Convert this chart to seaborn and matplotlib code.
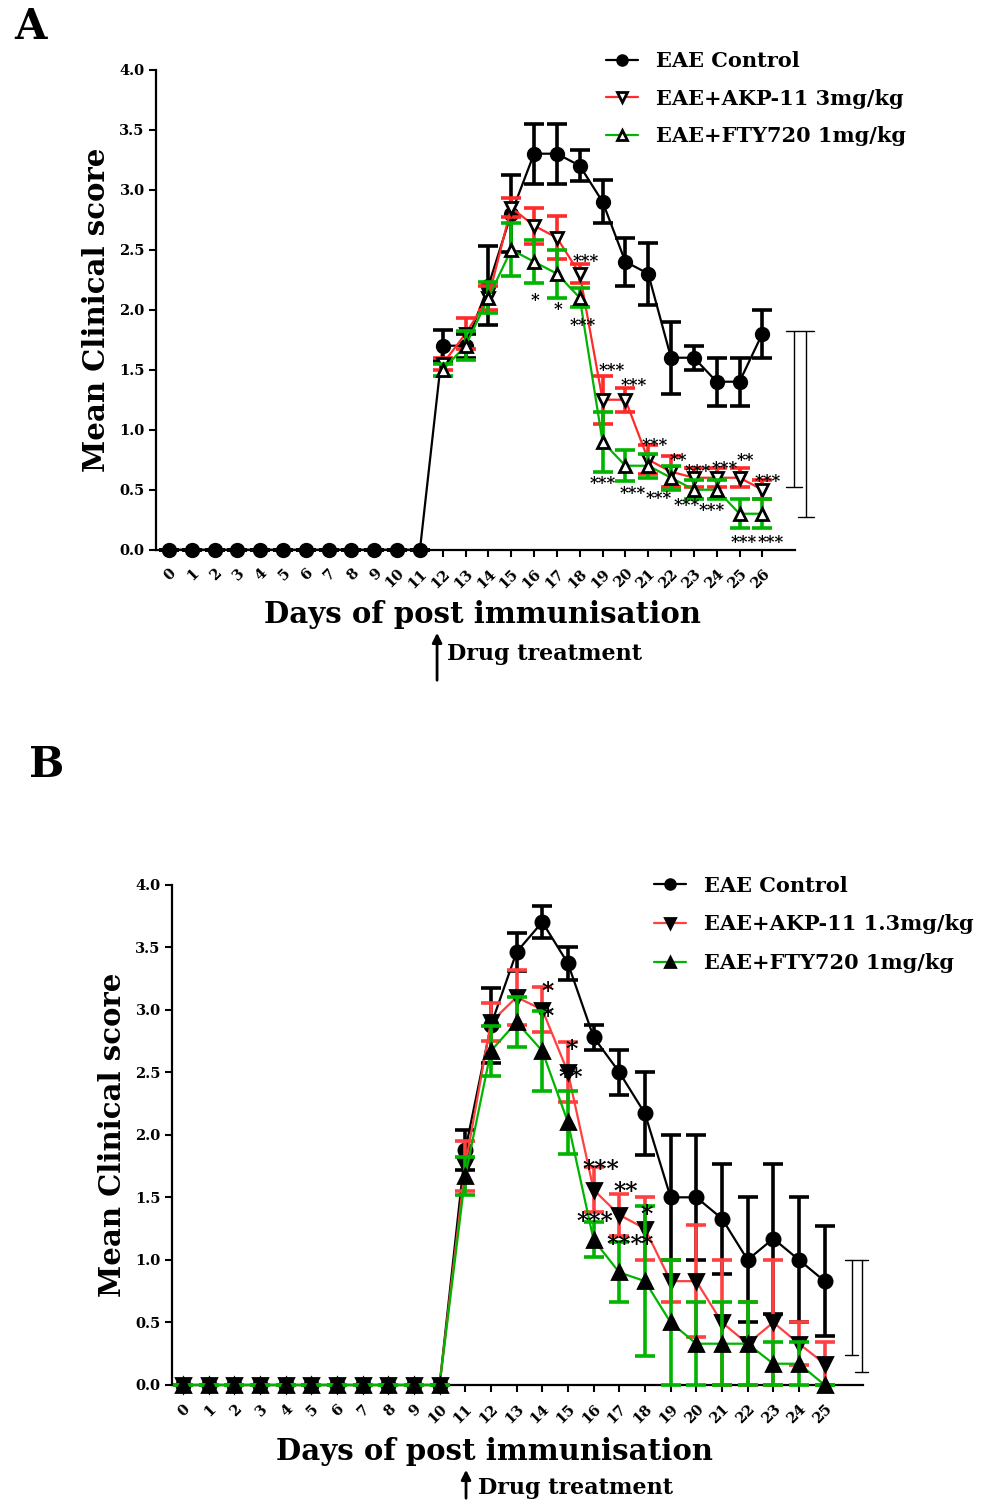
import numpy as np
import pandas as pd
import matplotlib
matplotlib.use('Agg')
import matplotlib.pyplot as plt
import seaborn as sns

sns.set_style('ticks')
plt.rcParams['font.family'] = ['DejaVu Serif']
plt.rcParams['font.weight'] = 'bold'
plt.rcParams['axes.linewidth'] = 1.6
for k in ['text.color', 'axes.labelcolor', 'xtick.color', 'ytick.color', 'axes.edgecolor']:
    plt.rcParams[k] = 'black'

# ---------------- Panel A data ----------------
days_a = list(range(27))
ctrl_a = [0]*12 + [1.7, 1.7, 2.2, 2.8, 3.3, 3.3, 3.2, 2.9, 2.4, 2.3, 1.6, 1.6, 1.4, 1.4, 1.8]
ctrl_a_err = [0]*12 + [0.13, 0.1, 0.33, 0.32, 0.25, 0.25, 0.13, 0.18, 0.2, 0.26, 0.3, 0.1, 0.2, 0.2, 0.2]
days_a_tr = list(range(12, 27))
akp_a = [1.55, 1.8, 2.1, 2.85, 2.7, 2.6, 2.3, 1.25, 1.25, 0.75, 0.65, 0.6, 0.6, 0.6, 0.5]
akp_a_err = [0.05, 0.13, 0.1, 0.08, 0.15, 0.18, 0.08, 0.2, 0.1, 0.12, 0.13, 0.08, 0.08, 0.08, 0.08]
fty_a = [1.5, 1.7, 2.1, 2.5, 2.4, 2.3, 2.1, 0.9, 0.7, 0.7, 0.6, 0.5, 0.5, 0.3, 0.3]
fty_a_err = [0.05, 0.12, 0.13, 0.22, 0.18, 0.2, 0.08, 0.25, 0.13, 0.1, 0.1, 0.08, 0.08, 0.12, 0.12]
labels_a = ['EAE Control', 'EAE+AKP-11 3mg/kg', 'EAE+FTY720 1mg/kg']
stars_a_x = [18.25, 16.05, 17.05, 18.15, 19.4, 20.35, 21.3, 22.3, 23.15, 24.35, 25.25, 26.25,
             19.0, 20.3, 21.45, 22.7, 23.8, 25.2, 26.35]
stars_a_y = [2.40, 2.08, 2.0, 1.87, 1.49, 1.37, 0.87, 0.74, 0.65, 0.68, 0.74, 0.57,
             0.55, 0.47, 0.43, 0.37, 0.33, 0.06, 0.06]
stars_a_t = ['***', '*', '*', '***', '***', '***', '***', '**', '***', '***', '**', '***',
             '***', '***', '***', '***', '***', '***', '***']
bracket_a_x = [27.4, 27.9]
bracket_a_top = 1.82
bracket_a_bot = [0.525, 0.275]

# ---------------- Panel B data ----------------
days_b = list(range(26))
ctrl_b = [0]*11 + [1.875, 2.875, 3.46, 3.7, 3.37, 2.78, 2.5, 2.17, 1.5, 1.5, 1.33, 1.0, 1.17, 1.0, 0.83]
ctrl_b_err = [0]*11 + [0.16, 0.3, 0.15, 0.13, 0.13, 0.1, 0.18, 0.33, 0.5, 0.5, 0.44, 0.5, 0.6, 0.5, 0.44]
akp_b = [0]*11 + [1.75, 2.9, 3.1, 3.0, 2.5, 1.56, 1.36, 1.25, 0.83, 0.83, 0.5, 0.33, 0.5, 0.33, 0.17]
akp_b_err = [0]*11 + [0.2, 0.15, 0.22, 0.18, 0.24, 0.18, 0.17, 0.25, 0.17, 0.45, 0.5, 0.33, 0.5, 0.17, 0.17]
fty_b = [0]*11 + [1.67, 2.67, 2.9, 2.67, 2.1, 1.16, 0.9, 0.83, 0.5, 0.33, 0.33, 0.33, 0.17, 0.17, 0.0]
fty_b_err = [0]*11 + [0.15, 0.2, 0.2, 0.32, 0.25, 0.14, 0.24, 0.6, 0.5, 0.33, 0.33, 0.33, 0.17, 0.17, 0.0]
labels_b = ['EAE Control', 'EAE+AKP-11 1.3mg/kg', 'EAE+FTY720 1mg/kg']
stars_b_x = [14.2, 14.2, 15.15, 15.1, 16.3, 17.25, 18.07, 16.05, 17.2, 18.07]
stars_b_y = [3.14, 2.94, 2.68, 2.45, 1.72, 1.54, 1.36, 1.30, 1.12, 1.12]
stars_b_t = ['*', '*', '*', '**', '***', '**', '*', '***', '***', '*']
bracket_b_x = [26.05, 26.44]
bracket_b_top = 1.0
bracket_b_bot = [0.24, 0.1]

RED = '#ff2a2a'
GREEN = '#00b400'

fig = plt.figure(figsize=(9.99, 15.02), dpi=100)


def draw_series(ax, x, y, err, color, label, marker, mfc, ms, ecolor, z):
    df = pd.DataFrame({'day': x, 'score': y})
    sns.lineplot(data=df, x='day', y='score', ax=ax, color=color, lw=1.6,
                 marker=marker, markersize=ms, markerfacecolor=mfc,
                 markeredgecolor='black', markeredgewidth=2.0,
                 label=label, clip_on=False, zorder=z + 1)
    ax.errorbar(x, y, yerr=err, fmt='none', ecolor=ecolor, elinewidth=2.6,
                capsize=7, capthick=2.6, clip_on=False, zorder=z)


def style_axes(ax, xmax_day, xlim, tick_fs=10.5):
    ax.set_ylim(0, 4)
    ax.set_xlim(*xlim)
    ax.set_yticks(np.arange(0, 4.01, 0.5))
    ax.set_yticklabels([f'{v:.1f}' for v in np.arange(0, 4.01, 0.5)],
                       fontsize=tick_fs, fontweight='bold')
    ax.set_xticks(range(xmax_day + 1))
    ax.set_xticklabels([str(d) for d in range(xmax_day + 1)], rotation=45,
                       ha='right', va='top', rotation_mode='anchor',
                       fontsize=tick_fs, fontweight='bold')
    ax.tick_params(axis='both', length=5, width=1.5, pad=3)
    ax.tick_params(axis='x', pad=7)
    sns.despine(ax=ax)
    ax.set_ylabel('Mean Clinical score', fontsize=21, fontweight='bold', labelpad=6)
    ax.set_xlabel('')


def bracket(ax, xs, top, bots, w=0.35):
    for x, b in zip(xs, bots):
        ax.plot([x, x], [top, b], color='black', lw=1.0, clip_on=False)
        ax.plot([x - w, x + w], [b, b], color='black', lw=1.0, clip_on=False)
    ax.plot([xs[0] - w, xs[-1] + w], [top, top], color='black', lw=1.0, clip_on=False)


# ---------------- Panel A ----------------
axA = fig.add_axes([0.156, 0.634, 0.64, 0.3196])
draw_series(axA, days_a, ctrl_a, ctrl_a_err, 'black', labels_a[0], 'o', 'black', 9, 'black', 3)
draw_series(axA, days_a_tr, akp_a, akp_a_err, RED, labels_a[1], 'v', 'white', 9, RED, 4)
draw_series(axA, days_a_tr, fty_a, fty_a_err, GREEN, labels_a[2], '^', 'white', 9, GREEN, 5)
style_axes(axA, 26, (-0.57, 27.44))
for x, y, t in zip(stars_a_x, stars_a_y, stars_a_t):
    axA.text(x, y, t, ha='center', va='center', fontsize=12, fontweight='bold', zorder=10)
bracket(axA, bracket_a_x, bracket_a_top, bracket_a_bot, w=0.35)
legA = axA.legend(loc='upper left', bbox_to_anchor=(0.607, 0.966), bbox_transform=fig.transFigure,
                  frameon=False, fontsize=15, handlelength=1.5, handletextpad=0.9,
                  labelspacing=0.85, borderpad=0, borderaxespad=0)
for h in legA.legend_handles:
    h.set_markersize(7)
fig.text(0.483, 1 - 615 / 1502, 'Days of post immunisation', ha='center', va='center',
         fontsize=21, fontweight='bold')
fig.text(0.447, 1 - 654 / 1502, 'Drug treatment', ha='left', va='center',
         fontsize=16, fontweight='bold')
fig.add_artist(matplotlib.patches.FancyArrowPatch((0.4375, 1 - 683 / 1502), (0.4375, 1 - 630 / 1502),
                                                  transform=fig.transFigure, arrowstyle='-|>',
                                                  mutation_scale=14, lw=2, color='black'))
fig.text(0.03, 1 - 27 / 1502, 'A', ha='center', va='center', fontsize=30, fontweight='bold')

# ---------------- Panel B ----------------
axB = fig.add_axes([0.172, 0.0779, 0.692, 0.3332])
draw_series(axB, days_b, ctrl_b, ctrl_b_err, 'black', labels_b[0], 'o', 'black', 9.5, 'black', 3)
draw_series(axB, days_b, akp_b, akp_b_err, '#ff4040', labels_b[1], 'v', 'black', 9.5, '#ff4040', 4)
draw_series(axB, days_b, fty_b, fty_b_err, GREEN, labels_b[2], '^', 'black', 9.5, GREEN, 5)
style_axes(axB, 25, (-0.43, 26.5))
for x, y, t in zip(stars_b_x, stars_b_y, stars_b_t):
    axB.text(x, y, t, ha='center', va='center', fontsize=17, fontweight='bold', zorder=10)
bracket(axB, bracket_b_x, bracket_b_top, bracket_b_bot, w=0.25)
legB = axB.legend(loc='upper left', bbox_to_anchor=(0.655, 0.417), bbox_transform=fig.transFigure,
                  frameon=False, fontsize=15, handlelength=1.5, handletextpad=0.9,
                  labelspacing=0.9, borderpad=0, borderaxespad=0)
for h in legB.legend_handles:
    h.set_markersize(7)
fig.text(0.495, 1 - 1452 / 1502, 'Days of post immunisation', ha='center', va='center',
         fontsize=21, fontweight='bold')
fig.text(0.478, 1 - 1488 / 1502, 'Drug treatment', ha='left', va='center',
         fontsize=16, fontweight='bold')
fig.add_artist(matplotlib.patches.FancyArrowPatch((0.4665, 1 - 1501 / 1502), (0.4665, 1 - 1467 / 1502),
                                                  transform=fig.transFigure, arrowstyle='-|>',
                                                  mutation_scale=14, lw=2, color='black'))
fig.text(0.047, 1 - 765 / 1502, 'B', ha='center', va='center', fontsize=30, fontweight='bold')

fig.savefig('out.png', dpi=100)
